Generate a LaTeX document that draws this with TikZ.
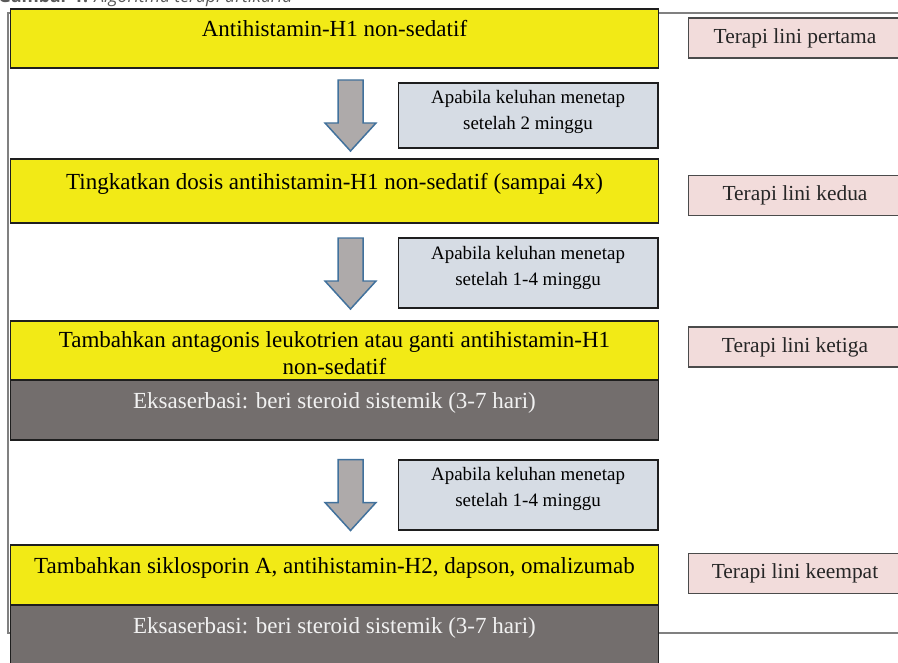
\documentclass[tikz,border=0pt]{standalone}
\usepackage{fontspec}
\setmainfont{Liberation Serif}
\newfontfamily\capfont{Open Sans}
\usepackage{tikz}
\usetikzlibrary{positioning}
\definecolor{stepyellow}{RGB}{242,234,22}
\definecolor{flaregray}{RGB}{115,110,109}
\definecolor{flaretext}{RGB}{242,242,242}
\definecolor{notegray}{RGB}{214,220,228}
\definecolor{linepink}{RGB}{242,220,219}
\definecolor{linetext}{RGB}{38,38,38}
\definecolor{boxline}{RGB}{30,30,30}
\definecolor{framegray}{RGB}{128,128,128}
\definecolor{arrowgray}{RGB}{174,170,170}
\definecolor{arrowline}{RGB}{65,113,156}
\definecolor{capgray}{RGB}{89,89,89}

\begin{document}
\begin{tikzpicture}[x=0.02cm,y=-0.02cm,
  stepbox/.style={draw=boxline, line width=0.6pt, fill=stepyellow, minimum width=12.98cm, minimum height=1.18cm, inner sep=0pt, outer sep=0pt, align=center, font=\fontsize{13.1}{15}\selectfont},
  flarebox/.style={stepbox, fill=flaregray, text=flaretext, minimum height=1.2cm},
  oneline/.style={text height=0.56cm, text depth=0.62cm},
  notebox/.style={draw=boxline, line width=0.6pt, fill=notegray, minimum width=5.2cm, minimum height=1.3cm, align=center, font=\fontsize{10.8}{15}\selectfont},
  linebox/.style={draw=boxline!80, line width=0.6pt, fill=linepink, text=linetext, minimum width=4.28cm, minimum height=0.8cm, inner sep=0pt, font=\fontsize{12.2}{14}\selectfont},
  downarrow/.pic={\path[draw=arrowline, fill=arrowgray, line width=0.85pt, line join=miter] (-12.5,-35.5) -- (12.5,-35.5) -- (12.5,7.5) -- (25.5,7.5) -- (0,35.5) -- (-25.5,7.5) -- (-12.5,7.5) -- cycle;}]
\useasboundingbox (0,0) rectangle (898,662);
\node[anchor=base west, inner sep=0pt, text=capgray, font=\capfont\fontsize{10}{12}\selectfont] (cap) at (-2,3) {\textbf{Gambar 1.} \textit{Algoritma terapi urtikaria}};
\draw[framegray, line width=0.6pt] (8,13) rectangle (905,633);

\node[stepbox, oneline] (s1) at (334.5,38.5) {Antihistamin-H1 non-sedatif};
\node[stepbox, oneline, minimum height=1.28cm] (s2) at (334.5,191) {Tingkatkan dosis antihistamin-H1 non-sedatif (sampai 4x)};
\node[stepbox, text height=27pt] (s3) at (334.5,350.5) {Tambahkan antagonis leukotrien atau ganti antihistamin-H1\\non-sedatif};
\node[flarebox, oneline, below=0pt of s3] (e3) {Eksaserbasi: beri steroid sistemik (3-7 hari)};
\node[stepbox, oneline, minimum height=1.2cm] (s4) at (334.5,575) {Tambahkan siklosporin A, antihistamin-H2, dapson, omalizumab};
\node[flarebox, oneline, below=0pt of s4] (e4) {Eksaserbasi: beri steroid sistemik (3-7 hari)};

\pic (a1) at (350.5,115.5) {downarrow};
\pic (a2) at (350.5,273.5) {downarrow};
\pic (a3) at (350.5,495) {downarrow};

\node[notebox, text depth=6pt] (k1) at (528,115.5) {Apabila keluhan menetap\\setelah 2 minggu};
\node[notebox, text depth=8pt, minimum height=1.4cm] (k2) at (528,273) {Apabila keluhan menetap\\setelah 1-4 minggu};
\node[notebox, text depth=9pt, minimum height=1.4cm] (k3) at (528,495) {Apabila keluhan menetap\\setelah 1-4 minggu};

\node[linebox] (t1) at (795,38) {Terapi lini pertama};
\node[linebox] (t2) at (795,195.5) {Terapi lini kedua};
\node[linebox] (t3) at (795,347) {Terapi lini ketiga};
\node[linebox] (t4) at (795,573.5) {Terapi lini keempat};
\end{tikzpicture}
\end{document}
